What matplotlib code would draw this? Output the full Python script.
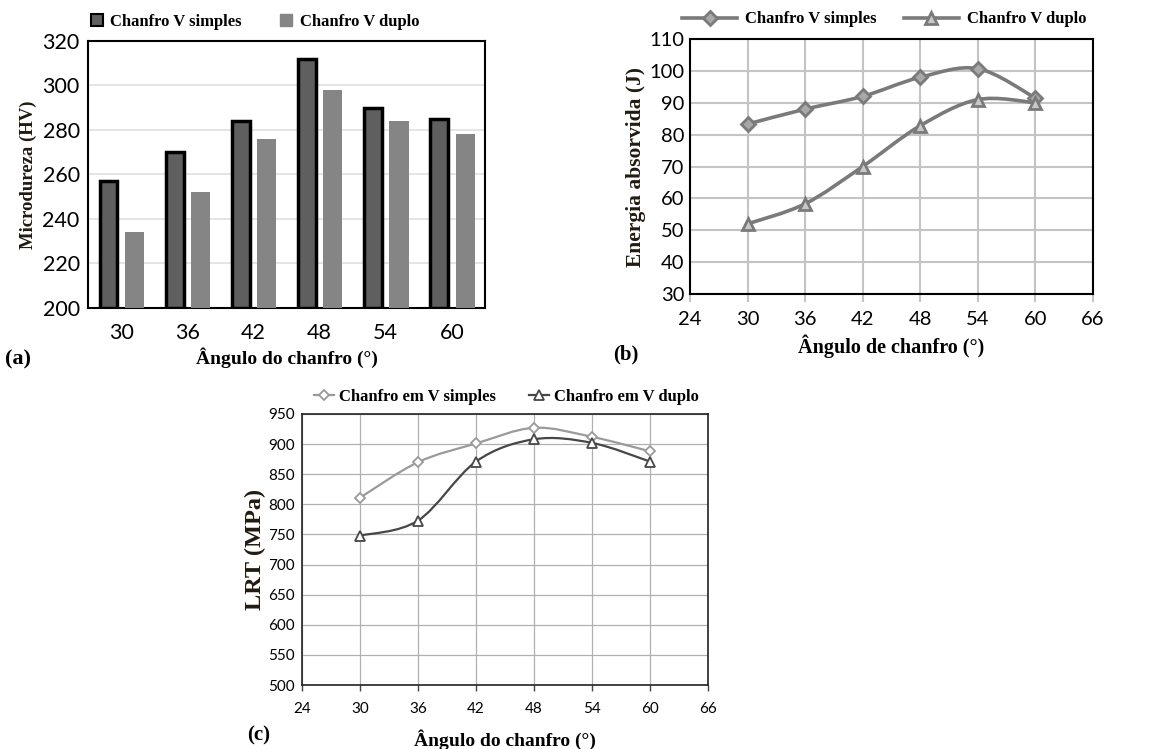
import matplotlib
matplotlib.use('Agg')
import matplotlib.pyplot as plt
import numpy as np
from matplotlib.path import Path
from matplotlib.patches import PathPatch
from matplotlib.lines import Line2D
from matplotlib import font_manager

# dados
angulos = [30, 36, 42, 48, 54, 60]
angulos_txt = ['30', '36', '42', '48', '54', '60']

micro_simples = [257, 270, 284, 312, 290, 285]
micro_duplo = [234, 252, 276, 298, 284, 278]

energia_simples = [83.3, 88, 92, 98, 100.7, 91.5]
energia_duplo = [52, 58.3, 70, 82.8, 91, 90]

lrt_simples = [811, 870, 901, 927, 912, 888]
lrt_duplo = [748, 773, 871, 908, 902, 871]

serif = 'Liberation Serif'
sans = 'Lato'
nomes = {f.name for f in font_manager.fontManager.ttflist}
estreita = 'Liberation Sans Narrow' if 'Liberation Sans Narrow' in nomes else sans


def curva_suave(ax, x, y, cor, lw):
    # linha suavizada estilo Excel (Catmull-Rom -> Bezier)
    pts = np.column_stack([x, y]).astype(float)
    verts = [pts[0]]
    codes = [Path.MOVETO]
    n = len(pts)
    for i in range(n - 1):
        p0 = pts[i - 1] if i > 0 else pts[i]
        p1 = pts[i]
        p2 = pts[i + 1]
        p3 = pts[i + 2] if i + 2 < n else pts[i + 1]
        c1 = p1 + (p2 - p0) / 6.0
        c2 = p2 - (p3 - p1) / 6.0
        verts += [c1, c2, p2]
        codes += [Path.CURVE4] * 3
    patch = PathPatch(Path(verts, codes), facecolor='none', edgecolor=cor,
                      lw=lw, zorder=3, capstyle='round')
    ax.add_patch(patch)


fig = plt.figure(figsize=(11.59, 7.49), dpi=100)

# ---------------- (a) microdureza ----------------
ax1 = fig.add_axes([0.0759, 0.5888, 0.3426, 0.3565])
pos = np.arange(len(angulos))
ax1.bar(pos - 0.19, [v - 200 for v in micro_simples], bottom=200, width=0.27,
        color='#5f5f5f', edgecolor='black', linewidth=2.5, zorder=3)
ax1.bar(pos + 0.2, [v - 200 for v in micro_duplo], bottom=200, width=0.29,
        color='#858585', edgecolor='none', zorder=3)
ax1.set_xlim(-0.5, 5.5)
ax1.set_ylim(200, 320)
ax1.set_yticks(range(200, 321, 20))
ax1.set_xticks(pos)
ax1.set_xticklabels(angulos_txt)
ax1.yaxis.grid(True, color='#e0e0e0', lw=1.2, zorder=0)
ax1.tick_params(axis='x', length=0, labelsize=15.5, pad=11)
ax1.tick_params(axis='y', length=0, labelsize=15.5, pad=6)
for lab in ax1.get_xticklabels() + ax1.get_yticklabels():
    lab.set_family(sans)
for s in ax1.spines.values():
    s.set_color('black')
    s.set_linewidth(1.5)
ax1.set_ylabel('Microdureza (HV)', family=serif, weight='bold', fontsize=13.5,
               color='#201a10', labelpad=4)
ax1.set_xlabel('Ângulo do chanfro (°)', family=serif, weight='bold',
               fontsize=14, labelpad=3)
h_a = [Line2D([], [], ls='none', marker='s', ms=8, mfc='#5f5f5f', mec='black',
              mew=1.5),
       Line2D([], [], ls='none', marker='s', ms=8, mfc='#858585', mec='#858585')]
fig.legend(h_a, ['Chanfro V simples', 'Chanfro V duplo'], loc='center',
           bbox_to_anchor=(0.219, 0.971), ncol=2, frameon=False,
           prop={'family': serif, 'weight': 'bold', 'size': 12},
           handletextpad=0.3, columnspacing=2.2, handlelength=1.0)
fig.text(0.004, 0.513, '(a)', family=serif, weight='bold', fontsize=16)

# ---------------- (b) energia absorvida ----------------
ax2 = fig.add_axes([0.5953, 0.6075, 0.3477, 0.3404])
cor_b = '#7a7a7a'
curva_suave(ax2, angulos, energia_simples, cor_b, 2.6)
curva_suave(ax2, angulos, energia_duplo, cor_b, 2.6)
ax2.plot(angulos, energia_simples, ls='none', marker='D', ms=7, mfc='#a8a8a8',
         mec=cor_b, mew=2, zorder=4)
ax2.plot(angulos, energia_duplo, ls='none', marker='^', ms=9, mfc='#c8c8c8',
         mec=cor_b, mew=2, zorder=4)
ax2.set_xlim(24, 66)
ax2.set_ylim(30, 110)
ax2.set_xticks(range(24, 67, 6))
ax2.set_yticks(range(30, 111, 10))
ax2.grid(True, color='#c4c4c4', lw=1.5, zorder=0)
ax2.set_axisbelow(True)
ax2.tick_params(axis='x', length=6, width=1.5, color='#c4c4c4', labelsize=14.5,
                pad=6)
ax2.tick_params(axis='y', length=0, labelsize=14.5, pad=4)
for lab in ax2.get_xticklabels() + ax2.get_yticklabels():
    lab.set_family(sans)
for s in ax2.spines.values():
    s.set_color('black')
    s.set_linewidth(1.5)
ax2.set_ylabel('Energia absorvida (J)', family=serif, weight='bold',
               fontsize=15.5, color='#201a10', labelpad=2)
ax2.set_xlabel('Ângulo de chanfro (°)', family=serif, weight='bold',
               fontsize=14.5, labelpad=5)
h_b = [Line2D([], [], color=cor_b, lw=2.6, marker='D', ms=7, mfc='#a8a8a8',
              mec=cor_b, mew=2),
       Line2D([], [], color=cor_b, lw=2.6, marker='^', ms=9, mfc='#c8c8c8',
              mec=cor_b, mew=2)]
fig.legend(h_b, ['Chanfro V simples', 'Chanfro V duplo'], loc='center',
           bbox_to_anchor=(0.763, 0.974), ncol=2, frameon=False,
           prop={'family': serif, 'weight': 'bold', 'size': 12},
           handletextpad=0.5, columnspacing=1.6, handlelength=3.3)
fig.text(0.529, 0.52, '(b)', family=serif, weight='bold', fontsize=15)

# ---------------- (c) LRT ----------------
ax3 = fig.add_axes([0.2606, 0.0854, 0.3503, 0.3619])
cor_s = '#9a9a9a'
cor_d = '#474747'
curva_suave(ax3, angulos, lrt_simples, cor_s, 1.6)
curva_suave(ax3, angulos, lrt_duplo, cor_d, 1.6)
ax3.plot(angulos, lrt_simples, ls='none', marker='D', ms=5.5, mfc='white',
         mec=cor_s, mew=1.3, zorder=4)
ax3.plot(angulos, lrt_duplo, ls='none', marker='^', ms=6.5, mfc='white',
         mec=cor_d, mew=1.3, zorder=4)
ax3.set_xlim(24, 66)
ax3.set_ylim(500, 950)
ax3.set_xticks(range(24, 67, 6))
ax3.set_yticks(range(500, 951, 50))
ax3.grid(True, color='#b0b0b0', lw=0.9, zorder=0)
ax3.set_axisbelow(True)
ax3.tick_params(axis='x', length=4, width=1, color='#444444', labelsize=11,
                pad=8)
ax3.tick_params(axis='y', length=0, labelsize=11, pad=5)
for lab in ax3.get_xticklabels() + ax3.get_yticklabels():
    lab.set_family(estreita)
for s in ax3.spines.values():
    s.set_color('#222222')
    s.set_linewidth(1.2)
ax3.set_ylabel('LRT (MPa)', family=serif, weight='bold', fontsize=17.5,
               color='#201a10', labelpad=2)
ax3.set_xlabel('Ângulo do chanfro (°)', family=serif, weight='bold',
               fontsize=14, labelpad=10)
h_c = [Line2D([], [], color=cor_s, lw=1.6, marker='D', ms=5.5, mfc='white',
              mec=cor_s, mew=1.3),
       Line2D([], [], color=cor_d, lw=1.6, marker='^', ms=6.5, mfc='white',
              mec=cor_d, mew=1.3)]
fig.legend(h_c, ['Chanfro em V simples', 'Chanfro em V duplo'], loc='center',
           bbox_to_anchor=(0.437, 0.47), ncol=2, frameon=False,
           prop={'family': serif, 'weight': 'bold', 'size': 12},
           handletextpad=0.3, columnspacing=2.0, handlelength=1.2)
fig.text(0.213, 0.012, '(c)', family=serif, weight='bold', fontsize=15)

fig.savefig('out.png', dpi=100)
